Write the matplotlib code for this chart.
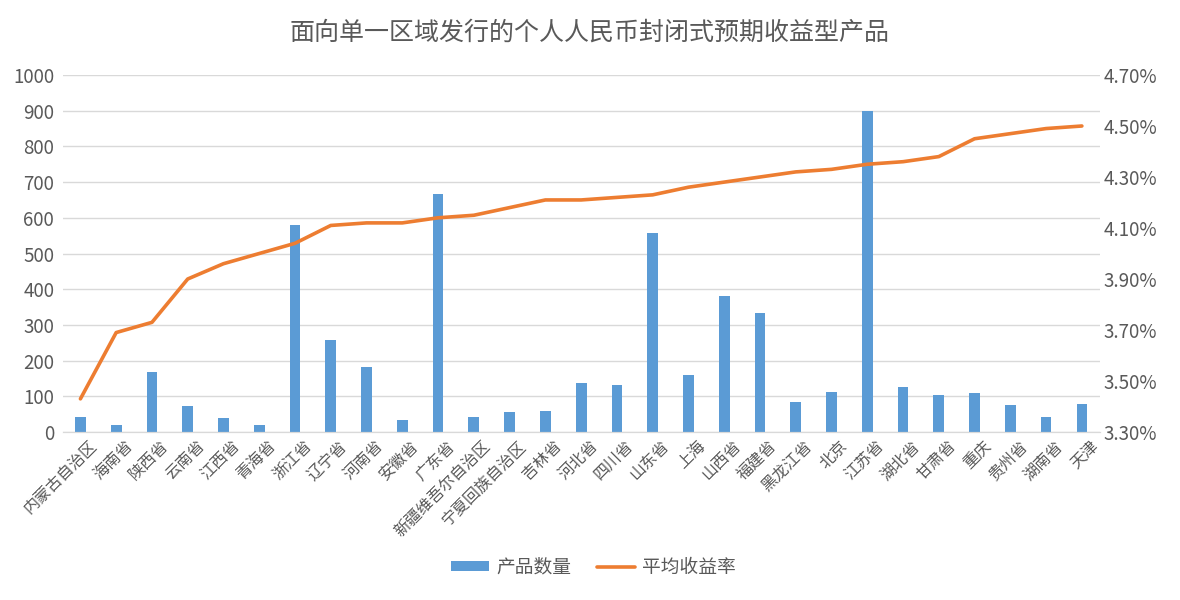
import matplotlib
matplotlib.use("Agg")
import matplotlib.pyplot as plt
import matplotlib.transforms as mtransforms
from matplotlib.ticker import FuncFormatter
import numpy as np

plt.rcParams['font.family'] = ['Noto Sans CJK SC', 'DejaVu Sans']

# 数据
regions = ['内蒙古自治区', '海南省', '陕西省', '云南省', '江西省', '青海省', '浙江省',
           '辽宁省', '河南省', '安徽省', '广东省', '新疆维吾尔自治区', '宁夏回族自治区',
           '吉林省', '河北省', '四川省', '山东省', '上海', '山西省', '福建省', '黑龙江省',
           '北京', '江苏省', '湖北省', '甘肃省', '重庆', '贵州省', '湖南省', '天津']
counts = [42, 20, 168, 73, 40, 20, 580, 258, 182, 34, 667, 42, 56, 59, 137, 132,
          557, 160, 381, 333, 84, 112, 899, 126, 104, 109, 76, 42, 78]
avg_yield = [3.43, 3.69, 3.73, 3.90, 3.96, 4.00, 4.04, 4.11, 4.12, 4.12, 4.14, 4.15,
             4.18, 4.21, 4.21, 4.22, 4.23, 4.26, 4.28, 4.30, 4.32, 4.33, 4.35, 4.36,
             4.38, 4.45, 4.47, 4.49, 4.50]

bar_color = '#5B9BD5'
line_color = '#ED7D31'
text_color = '#595959'
grid_color = '#D9D9D9'

fig = plt.figure(figsize=(11.8, 6), dpi=100)
ax = fig.add_axes([0.053, 0.28, 0.879, 0.595])
ax2 = ax.twinx()

x = np.arange(len(regions))
ax.bar(x, counts, width=0.3, color=bar_color, label='产品数量', zorder=2)
ax2.plot(x, avg_yield, color=line_color, linewidth=2.6, label='平均收益率',
         solid_capstyle='round', solid_joinstyle='round')

ax.set_xlim(-0.5, len(regions) - 0.5)
ax.set_ylim(0, 1000)
ax.set_yticks(range(0, 1001, 100))
ax2.set_ylim(3.3, 4.7)
ax2.set_yticks(np.arange(3.3, 4.71, 0.2))
ax2.yaxis.set_major_formatter(FuncFormatter(lambda v, p: f'{v:.2f}%'))

ax.grid(axis='y', color=grid_color, linewidth=1, zorder=0)
ax.set_axisbelow(True)

for a in (ax, ax2):
    for s in ('top', 'left', 'right'):
        a.spines[s].set_visible(False)
    a.spines['bottom'].set_color(grid_color)
    a.tick_params(length=0, colors=text_color, labelsize=13.5)

ax.set_xticks(x)
ax.set_xticklabels(regions, rotation=45, ha='right', rotation_mode='anchor',
                   fontsize=11.5, color=text_color)
ax.tick_params(axis='x', pad=4)
ax.tick_params(axis='y', pad=6)
ax2.tick_params(axis='y', pad=3)

# 标签右移一点，让文字中心对准刻度
offset = mtransforms.ScaledTranslation(8 / 100, 0, fig.dpi_scale_trans)
for lbl in ax.get_xticklabels():
    lbl.set_transform(lbl.get_transform() + offset)

fig.text(0.5, 0.945, '面向单一区域发行的个人人民币封闭式预期收益型产品',
         ha='center', va='center', fontsize=18, color=text_color)

h1, l1 = ax.get_legend_handles_labels()
h2, l2 = ax2.get_legend_handles_labels()
leg = fig.legend(h1 + h2, l1 + l2, loc='center', bbox_to_anchor=(0.503, 0.055), ncol=2,
                 frameon=False, fontsize=13.5, labelcolor=text_color, handlelength=2.0,
                 handleheight=0.5, handletextpad=0.4, columnspacing=1.4)

fig.savefig('out.png', dpi=100, facecolor='white')
